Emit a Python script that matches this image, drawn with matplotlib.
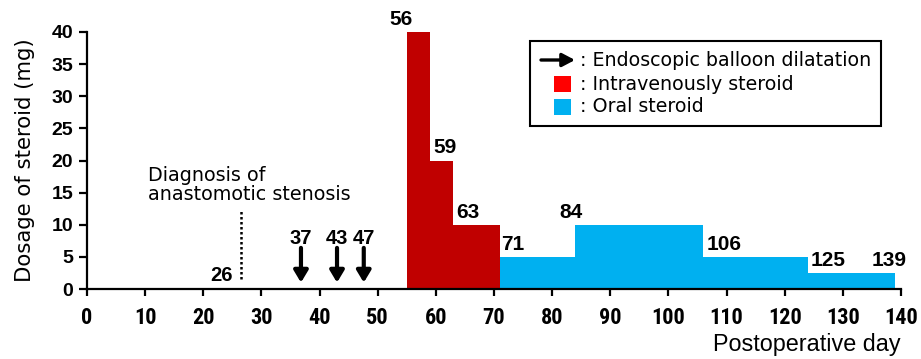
import matplotlib
matplotlib.use("Agg")
import matplotlib.pyplot as plt
from matplotlib import font_manager
from matplotlib.patches import Rectangle, FancyArrowPatch

names = {f.name for f in font_manager.fontManager.ttflist}
BASE = "Liberation Sans" if "Liberation Sans" in names else "DejaVu Sans"
NARROW = "Roboto Condensed" if "Roboto Condensed" in names else BASE
WIDE = "DejaVu Sans"
plt.rcParams['font.family'] = [BASE, 'DejaVu Sans']

# ---- data ----
iv_starts = [55, 59, 63]
iv_ends = [59, 63, 71]
iv_dose = [40, 20, 10]
oral_starts = [71, 84, 106, 124]
oral_ends = [84, 106, 124, 139]
oral_dose = [5, 10, 5, 2.5]
bar_labels = ["56", "59", "63", "71", "84", "106", "125", "139"]
bar_label_levels = [40, 20, 10, 5, 10, 5, 2.5, 2.5]
diagnosis_day = 26
ebd_days = [37, 43, 47]
xticks = list(range(0, 141, 10))
yticks = list(range(0, 41, 5))

RED = "#C00000"
BLUE = "#00B0F0"

fig = plt.figure(figsize=(9.21, 3.59), dpi=100)
ax = fig.add_axes([87/921, 1-289/359, (901-87)/921, (289-32)/359])

ax.bar(iv_starts, iv_dose, width=[e - s for s, e in zip(iv_starts, iv_ends)],
       align='edge', color=RED, edgecolor='none', clip_on=False)
ax.bar(oral_starts, oral_dose, width=[e - s for s, e in zip(oral_starts, oral_ends)],
       align='edge', color=BLUE, edgecolor='none', clip_on=False)

ax.set_xlim(0, 140)
ax.set_ylim(0, 40)
ax.set_xticks(xticks)
ax.set_yticks(yticks)
for s in ['top', 'right']:
    ax.spines[s].set_visible(False)
for s in ['left', 'bottom']:
    ax.spines[s].set_linewidth(1.6)
ax.tick_params(axis='x', direction='out', width=1.6, length=5, pad=8)
ax.tick_params(axis='y', direction='out', width=1.6, length=6, pad=4)
ax.set_yticklabels([str(v) for v in yticks], fontsize=14, fontweight='bold')
ax.set_xticklabels([str(v) for v in xticks], fontsize=16, fontweight='bold',
                   family=NARROW)
ax.set_ylabel("Dosage of steroid (mg)", fontsize=15.3, labelpad=12, family=WIDE)
fig.text(901/921, 1-345/359, "Postoperative day", fontsize=16.8,
         ha='right', va='center')

# bar labels: (ha, x offset in days)
label_specs = [('center', -2.0), ('left', 0.5), ('left', 0.5), ('left', 0.3),
               ('center', -0.7), ('left', 0.5), ('left', -0.6), ('center', -1.0)]
for lab, top, (ha, dx) in zip(bar_labels, bar_label_levels, label_specs):
    xv = float(lab)
    ax.text(xv + dx, top + 0.5, lab, ha=ha, va='bottom', fontsize=15,
            fontweight='bold', clip_on=False)

# diagnosis marker
ax.plot([diagnosis_day + 0.5] * 2, [1.5, 12.4], color='black', lw=1.8,
        linestyle=(0, (1, 1)))
ax.text(diagnosis_day - 1.0, 0.7, str(diagnosis_day), ha='right', va='bottom',
        fontsize=14.5, fontweight='bold')
ax.text(10.5, 19.2, "Diagnosis of\nanastomotic stenosis", ha='left', va='top',
        fontsize=13.8, linespacing=1.0, family=WIDE)

# EBD arrows
arrow_dx = [-0.2, 0.0, 0.6]
for d, dx in zip(ebd_days, arrow_dx):
    xd = d + dx
    ax.annotate("", xy=(xd, 1.0), xytext=(xd, 6.4),
                arrowprops=dict(arrowstyle='-|>,head_width=0.3,head_length=0.5',
                                mutation_scale=14, lw=3.0, color='black',
                                shrinkA=0, shrinkB=0))
    ax.text(xd, 6.4, str(d), ha='center', va='bottom', fontsize=14.5,
            fontweight='bold')

# legend (manual)
tf = fig.transFigure
def fx(px):
    return px / 921
def fy(py):
    return 1 - py / 359
fig.patches.append(Rectangle((fx(530), fy(125.5)), fx(881) - fx(530), fy(40.5) - fy(125.5),
                             transform=tf, fill=False, edgecolor='black', lw=1.5))
fig.patches.append(FancyArrowPatch((fx(541), fy(60)), (fx(575), fy(60)), transform=tf,
                                   arrowstyle='-|>,head_width=0.2,head_length=0.38',
                                   mutation_scale=20, lw=2.4, color='black',
                                   shrinkA=0, shrinkB=0))
fig.patches.append(Rectangle((fx(554), fy(92)), fx(571) - fx(554), fy(76) - fy(92),
                             transform=tf, color='#FF0000', lw=0))
fig.patches.append(Rectangle((fx(554), fy(115)), fx(571) - fx(554), fy(99) - fy(115),
                             transform=tf, color=BLUE, lw=0))
for py, txt in [(61, ": Endoscopic balloon dilatation"), (84, ": Intravenously steroid"),
                (107, ": Oral steroid")]:
    fig.text(fx(580), fy(py), txt, fontsize=13.7, ha='left', va='center', family=WIDE)

fig.savefig("out.png", dpi=100)
